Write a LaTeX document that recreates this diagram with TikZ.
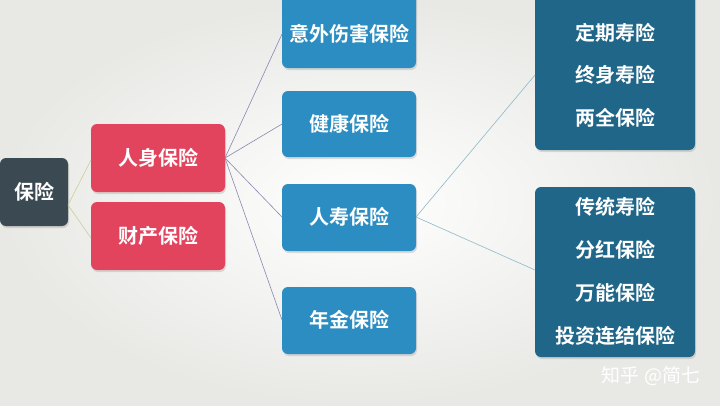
\documentclass[tikz,border=0pt]{standalone}
\usepackage{fontspec}
\newfontfamily\cjk{Noto Sans CJK SC}[BoldFont={Noto Sans CJK SC Bold}]
\usetikzlibrary{shadows}
\definecolor{bgc}{HTML}{E8E8E5}
\definecolor{rootc}{HTML}{3B4A52}
\definecolor{redc}{HTML}{E2445E}
\definecolor{bluec}{HTML}{2B8DC1}
\definecolor{tealc}{HTML}{1F6688}
\definecolor{lgreen}{HTML}{C9CFA0}
\definecolor{lpurple}{HTML}{8C86B0}
\definecolor{lteal}{HTML}{8FB8C8}
\tikzset{
  box/.style={rounded corners=6pt, draw=none, drop shadow={shadow xshift=1pt, shadow yshift=-2pt, opacity=0.25}},
  lbl/.style={font=\cjk\bfseries\fontsize{20pt}{24pt}\selectfont, text=white, inner sep=0pt},
  conn/.style={line width=0.6pt}
}
\begin{document}
\begin{tikzpicture}[x=1pt,y=-1pt]
\shade[inner color=white, outer color=bgc] (0,0) rectangle (720,405);
\useasboundingbox (0,0) rectangle (720,405);
% boxes
\filldraw[box, fill=rootc] (0,158) rectangle (68,226);
\node[lbl] (root) at (34,192) {保险};
\coordinate (rootR) at (68,205);
\filldraw[box, fill=redc] (91,124) rectangle (225,192);
\node[lbl] (rs) at (158,158) {人身保险};
\coordinate (rsL) at (91,160);
\coordinate (rsR) at (225,158);
\filldraw[box, fill=redc] (91,202) rectangle (225,270);
\node[lbl] (cc) at (158,236) {财产保险};
\coordinate (ccL) at (91,238);
\filldraw[box, fill=bluec] (282,-8) rectangle (416,68);
\node[lbl] (yw) at (349,34) {意外伤害保险};
\coordinate (ywL) at (282,34);
\filldraw[box, fill=bluec] (282,91) rectangle (416,157);
\node[lbl] (jk) at (349,124) {健康保险};
\coordinate (jkL) at (282,124);
\filldraw[box, fill=bluec] (282,184) rectangle (416,251);
\node[lbl] (rsh) at (349,217) {人寿保险};
\coordinate (rshL) at (282,217);
\coordinate (rshR) at (416,217);
\filldraw[box, fill=bluec] (282,287) rectangle (416,354);
\node[lbl] (nj) at (349,320) {年金保险};
\coordinate (njL) at (282,320);
\filldraw[box, fill=tealc] (535,-8) rectangle (695,150);
\node[lbl] (g1a) at (615,33) {定期寿险};
\node[lbl] (g1b) at (615,75) {终身寿险};
\node[lbl] (g1c) at (615,118) {两全保险};
\coordinate (g1L) at (535,75);
\filldraw[box, fill=tealc] (535,187) rectangle (695,357);
\node[lbl] (g2a) at (615,207) {传统寿险};
\node[lbl] (g2b) at (615,250) {分红保险};
\node[lbl] (g2c) at (615,293) {万能保险};
\node[lbl] (g2d) at (615,336) {投资连结保险};
\coordinate (g2L) at (535,270);
% connectors
\draw[conn, lgreen] (rootR) -- (rsL);
\draw[conn, lgreen] (rootR) -- (ccL);
\draw[conn, lpurple] (rsR) -- (ywL);
\draw[conn, lpurple] (rsR) -- (jkL);
\draw[conn, lpurple] (rsR) -- (rshL);
\draw[conn, lpurple] (rsR) -- (njL);
\draw[conn, lteal] (rshR) -- (g1L);
\draw[conn, lteal] (rshR) -- (g2L);
% watermark
\node[font=\cjk\fontsize{19pt}{22pt}\selectfont, text=white, inner sep=0pt] (wm) at (651,376) {知乎 @简七};
\end{tikzpicture}
\end{document}
